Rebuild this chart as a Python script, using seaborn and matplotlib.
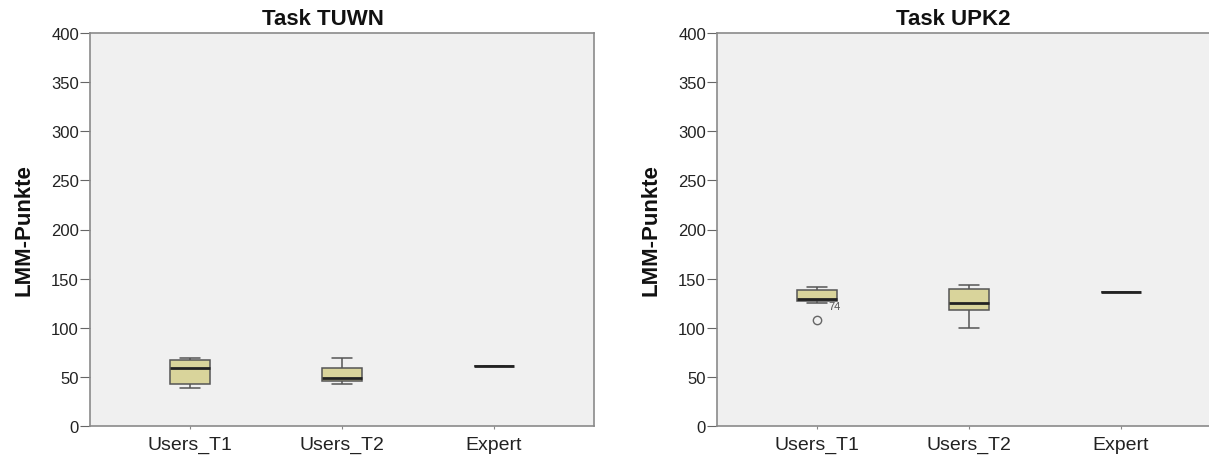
import numpy as np
import pandas as pd
import matplotlib
matplotlib.use("Agg")
import matplotlib.pyplot as plt
import seaborn as sns

groups = ["Users_T1", "Users_T2", "Expert"]

# LMM points
tuwn_t1 = [39, 43, 59, 67, 69]
tuwn_t2 = [43, 46, 49, 59, 69]
tuwn_expert = [61]

upk2_t1 = [108, 125, 127, 128, 129, 133, 138, 140, 141]
upk2_t2 = [100, 118, 125, 139, 144]
upk2_expert = [136]

outlier_label = "74"
outlier_value = 108


def to_frame(t1, t2, expert):
    vals = t1 + t2 + expert
    grp = [groups[0]] * len(t1) + [groups[1]] * len(t2) + [groups[2]] * len(expert)
    return pd.DataFrame({"group": grp, "LMM-Punkte": vals})


def main():
    sns.set_style("ticks", {"axes.facecolor": "#f0f0f0"})
    plt.rcParams["font.family"] = ["Liberation Sans", "DejaVu Sans"]

    fig = plt.figure(figsize=(12.09, 4.56), dpi=100)
    ax1 = fig.add_axes([90 / 1209, 29 / 456, 504 / 1209, 393 / 456])
    ax2 = fig.add_axes([717 / 1209, 29 / 456, 504 / 1209, 393 / 456])

    panels = [
        (ax1, to_frame(tuwn_t1, tuwn_t2, tuwn_expert), "Task TUWN", 323),
        (ax2, to_frame(upk2_t1, upk2_t2, upk2_expert), "Task UPK2", 953),
    ]

    edge = "#555555"
    for ax, df, title, tx in panels:
        sns.boxplot(data=df, x="group", y="LMM-Punkte", order=groups, ax=ax,
                    width=0.26, color="#d9d49b", saturation=1,
                    linecolor=edge, linewidth=1.1,
                    medianprops=dict(color="#222222", linewidth=2),
                    flierprops=dict(marker="o", markerfacecolor="none",
                                    markeredgecolor="#666666", markersize=6,
                                    markeredgewidth=1))
        ax.set_ylim(0, 400)
        ax.set_xlim(-0.66, 2.66)
        ax.set_yticks(np.arange(0, 401, 50))
        ax.set_xlabel("")
        ax.set_ylabel("LMM-Punkte", fontsize=16, fontweight="bold", labelpad=12,
                      color="#111111")
        ax.tick_params(axis="y", labelsize=12, length=7, color="#666666",
                       labelcolor="#222222", pad=1)
        ax.tick_params(axis="x", labelsize=14, length=2, color="#888888",
                       labelcolor="#222222", pad=5)
        for s in ax.spines.values():
            s.set_color("#8a8a8a")
            s.set_linewidth(1.2)
        fig.text(tx / 1209, 1 - 25 / 456, title, ha="center", va="baseline",
                 fontsize=16, fontweight="bold", color="#111111")

    # case number next to the outlier in UPK2
    ax2.annotate(outlier_label, xy=(0, outlier_value), xytext=(8, 8),
                 textcoords="offset points", fontsize=8, color="#555555")

    fig.savefig("out.png", dpi=100)


if __name__ == "__main__":
    main()
